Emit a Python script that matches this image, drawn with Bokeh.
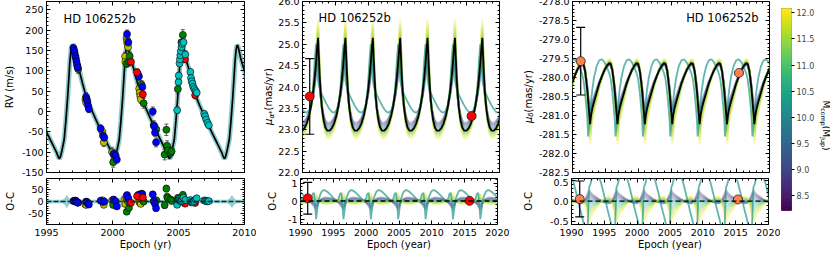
import math
import numpy as np
from bokeh.plotting import figure
from bokeh.models import (Range1d, LinearAxis, SingleIntervalTicker, FixedTicker,
                          CustomJSTickFormatter, Label, Grid, Span)
from bokeh.layouts import row, column
from bokeh.palettes import Viridis256
from bokeh.embed import file_html
from bokeh.resources import INLINE

FONT = "DejaVu Sans"
TITLE = "HD 106252b"

# ---------------- data ----------------
# RV best-fit orbit: one cycle, time after RV maximum (yr) and RV (m/s)
rv_cycle_dt = [0.00, 0.08, 0.18, 0.30, 0.45, 0.60, 0.80, 1.10, 1.35, 1.63, 2.00, 2.33, 2.70,
               3.00, 3.12, 3.21, 3.30, 3.42, 3.59, 3.72, 3.84, 3.95, 4.02, 4.10, 4.17]
rv_cycle_val = [163, 160, 146, 128, 112, 96, 70, 34, 14, -6, -33, -56, -80,
                -100, -110, -116, -112, -96, -69, -22, 30, 85, 122, 150, 163]
rv_peak_epochs = [1992.75, 1996.92, 2001.09, 2005.26, 2009.43]

# spread of the RV posterior orbits around the best fit (O-C panel)
rv_band_epoch = [1995.0, 1996.20, 1996.38, 1996.54, 1996.70, 1996.88, 2000.37, 2000.55, 2000.71,
                 2000.87, 2001.05, 2004.54, 2004.72, 2004.88, 2005.04, 2005.22, 2008.71, 2008.89,
                 2009.05, 2009.21, 2009.39, 2010.0]
rv_band_halfwidth = [7, 7, 14, 28, 14, 7, 7, 14, 26, 14, 7, 7, 14, 26, 14, 7, 7, 14, 28, 14, 7, 7]

# RV measurements per instrument (epoch yr, RV m/s, error m/s)
rv_blue_epoch = [1997.04, 1997.09, 1997.13, 1997.18, 1997.22, 1997.27, 1997.31, 1997.36, 1998.00,
                 1998.05, 1998.10, 1998.15, 1998.21, 1999.10, 1999.28, 1999.38, 2000.08, 2000.24,
                 2000.33, 2001.10, 2001.20, 2001.92, 2002.00, 2002.26, 2003.05, 2003.15, 2003.22,
                 2003.30]
rv_blue_val = [156, 150, 145, 137, 131, 123, 115, 108, 36, 30, 24, 14, 6, -42, -60, -64, -104,
               -108, -118, 190, 170, 92, 86, 60, 0, -36, -52, -76]
rv_blue_err = [9, 8, 9, 8, 9, 10, 8, 9, 10, 9, 11, 10, 9, 9, 10, 9, 11, 10, 9, 10, 9, 10, 9, 10,
               11, 10, 9, 11]

rv_olive_epoch = [1997.95, 1998.00, 1999.24, 1999.34, 1999.97, 2000.15, 2000.95, 2000.97, 2001.06,
                  2001.10, 2001.14, 2001.18, 2002.02, 2002.06, 2002.10, 2002.14]
rv_olive_val = [30, 22, -50, -76, -100, -118, 135, 122, 180, 172, 165, 158, 56, 46, 38, 30]
rv_olive_err = [10, 9, 11, 10, 12, 11, 10, 11, 10, 9, 10, 11, 10, 9, 11, 10]

rv_green_epoch = [1997.34, 1997.40, 2000.05, 2001.08, 2001.25, 2001.30, 2001.97, 2002.20, 2002.36,
                  2003.12, 2003.32, 2003.95, 2004.08, 2004.14, 2004.20, 2004.40, 2004.48, 2004.95,
                  2005.22, 2005.33]
rv_green_val = [112, 104, -125, 118, 122, 136, 86, 66, 20, -34, -44, -106, -45, -84, -96, -102,
                -98, 55, 170, 188]
rv_green_err = [10, 11, 12, 10, 11, 10, 11, 10, 12, 11, 12, 13, 14, 12, 13, 12, 11, 12, 14, 13]

rv_red_epoch = [2001.40, 2001.86, 2002.30, 2005.45, 2005.50, 2006.26]
rv_red_val = [122, 96, 42, 140, 128, 40]
rv_red_err = [8, 9, 8, 9, 8, 9]

rv_cyan_epoch = [2004.90, 2005.00, 2005.02, 2005.08, 2005.11, 2005.14, 2005.18, 2005.23, 2005.28,
                 2005.38, 2005.52, 2005.90, 2005.95, 2006.00, 2006.06, 2006.12, 2006.20, 2006.30,
                 2006.38, 2006.95, 2007.02, 2007.10, 2007.20, 2007.30]
rv_cyan_val = [3, 72, 88, 118, 128, 138, 148, 158, 166, 170, 140, 97, 82, 74, 68, 60, 55, 50, 46,
               -6, -12, -20, -28, -34]
rv_cyan_err = [8, 7, 8, 7, 8, 7, 8, 9, 8, 9, 8, 7, 8, 7, 8, 7, 8, 7, 8, 7, 8, 7, 8, 7]

rv_instruments = [("olive", "#BFBF00"), ("green", "#008000"), ("blue", "#0000FF"),
                  ("red", "#FF0000"), ("cyan", "#00BFBF")]

# Proper motion in RA: one cycle after each maximum (yr, mas/yr)
ra_peak_epochs = [1988.20, 1992.37, 1996.54, 2000.71, 2004.88, 2009.05, 2013.22, 2017.39, 2021.56]
ra_cycle_dt = [0.00, 0.12, 0.25, 0.40, 0.60, 0.85, 1.10, 1.40, 1.75, 2.10, 2.45, 2.80, 3.10, 3.40,
               3.65, 3.85, 4.02, 4.17]
ra_cycle_val = [25.15, 24.70, 24.25, 23.85, 23.50, 23.22, 23.06, 22.98, 22.98, 23.04, 23.15, 23.33,
                23.55, 23.85, 24.20, 24.55, 24.90, 25.15]
ra_alt_val = [24.15, 24.05, 23.97, 23.90, 23.82, 23.74, 23.66, 23.57, 23.48, 23.42, 23.40, 23.45,
              23.60, 23.95, 24.60, 25.00, 24.70, 24.15]
ra_center = 23.6

# Proper motion in Dec: one cycle after each minimum (yr, mas/yr)
dec_cusp_epochs = [1988.51, 1992.68, 1996.85, 2001.02, 2005.19, 2009.36, 2013.53, 2017.70, 2021.87]
dec_cycle_dt = [0.00, 0.15, 0.35, 0.60, 1.00, 1.40, 1.80, 2.20, 2.60, 2.90, 3.15, 3.40, 3.60, 3.75,
                3.87, 4.00, 4.17]
dec_cycle_val = [-281.23, -280.98, -280.80, -280.64, -280.40, -280.16, -279.97, -279.80, -279.68,
                 -279.62, -279.64, -279.82, -280.10, -280.35, -280.60, -280.88, -281.23]
dec_alt_val = [-280.90, -280.60, -280.30, -280.00, -279.70, -279.55, -279.52, -279.60, -279.75,
               -279.88, -280.05, -280.40, -280.78, -281.10, -281.55, -281.30, -280.90]
dec_center = -279.9

# posterior samples: companion mass (M_Jup) and amplitude relative to best fit
sample_mass = [8.5, 8.8, 9.1, 9.4, 9.7, 10.0, 10.3, 10.6, 10.9, 11.2, 11.5, 11.8, 12.0]
ra_amp = [0.70, 0.75, 0.80, 0.85, 0.90, 0.95, 1.00, 1.04, 1.08, 1.12, 1.17, 1.22, 1.28]
dec_amp = [0.80, 0.84, 0.88, 0.92, 0.96, 1.00, 1.04, 1.09, 1.14, 1.19, 1.25, 1.32, 1.40]
alt_mass = 10.3

# Hipparcos / Gaia proper motions
ra_obs_epoch = [1991.10, 2015.75]
ra_obs_val = [23.78, 23.32]
ra_obs_err = [0.885, 0.04]
ra_oc_val = [0.15, 0.01]
ra_oc_err = [0.88, 0.04]

dec_obs_epoch = [1991.25, 2015.35]
dec_obs_val = [-279.57, -279.88]
dec_obs_err = [0.89, 0.03]
dec_oc_val = [0.05, 0.04]
dec_oc_err = [0.43, 0.03]

cbar_ticks = [8.5, 9.0, 9.5, 10.0, 10.5, 11.0, 11.5, 12.0]
CB_LO, CB_HI = 8.22, 12.08

# ---------------- helpers ----------------
CHAR_W = {' ': 0.318, '(': 0.390, ')': 0.390, '*': 0.500, '/': 0.337, 'a': 0.613, 'c': 0.550,
          'm': 0.974, 'o': 0.612, 'p': 0.635, 'r': 0.411, 's': 0.521, 'u': 0.634, 'y': 0.592,
          'J': 0.295, 'M': 0.863, 'μ': 0.636, 'α': 0.659, 'δ': 0.612}


def text_w(t, size):
    return sum(CHAR_W.get(c, 0.6) for c in t) * size


def vir(m):
    i = int(round((m - CB_LO) / (CB_HI - CB_LO) * 255))
    return Viridis256[max(0, min(255, i))]


def periodic(starts, dts, vals):
    t, v = [], []
    for i, s in enumerate(starts):
        j0 = 0 if i == 0 else 1
        t.extend(s + d for d in dts[j0:])
        v.extend(vals[j0:])
    return np.array(t), np.array(v, dtype=float)


def clean(p):
    for g in p.select(type=Grid):
        g.visible = False
    p.background_fill_color = "white"
    p.border_fill_color = "white"


def base_fig(xr, yr, fw, fh, bl, br, bt, bb):
    p = figure(x_range=xr, y_range=yr, frame_width=fw, frame_height=fh,
               min_border_left=bl, min_border_right=br, min_border_top=bt, min_border_bottom=bb,
               toolbar_location=None, output_backend="svg",
               x_axis_location=None, y_axis_location=None)
    clean(p)
    p.outline_line_color = "black"
    p.outline_line_width = 1
    return p


def label_fig(w, h):
    p = figure(x_range=Range1d(0, 1), y_range=Range1d(0, 1), frame_width=w, frame_height=h,
               min_border=0, toolbar_location=None, output_backend="svg",
               x_axis_location=None, y_axis_location=None)
    clean(p)
    p.outline_line_color = None
    return p


def tick_fmt(dec):
    return CustomJSTickFormatter(code=(
        "const v = Math.abs(tick) < 1e-9 ? 0 : tick;"
        f"return v.toFixed({dec});"))


def add_axis(p, side, interval, dec, labels, title=None, title_standoff=5, fs="9.5px",
             standoff=3):
    ax = LinearAxis(ticker=SingleIntervalTicker(interval=interval, num_minor_ticks=5),
                    formatter=tick_fmt(dec))
    ax.major_tick_in = 4
    ax.major_tick_out = 0
    ax.minor_tick_in = 2
    ax.minor_tick_out = 0
    ax.major_tick_line_color = "black"
    ax.minor_tick_line_color = "black"
    ax.axis_line_color = None
    if labels:
        ax.major_label_text_font = FONT
        ax.major_label_text_font_size = fs
        ax.major_label_text_color = "black"
        ax.major_label_standoff = standoff
    else:
        ax.major_label_text_font_size = "0px"
        ax.major_label_text_alpha = 0
        ax.major_label_standoff = 0
    if title:
        ax.axis_label = title
        ax.axis_label_text_font = FONT
        ax.axis_label_text_font_size = "10px"
        ax.axis_label_text_font_style = "normal"
        ax.axis_label_text_color = "black"
        ax.axis_label_standoff = title_standoff
    p.add_layout(ax, side)


def frame_axes(p, xint, yint, xdec, ydec, show_x, xtitle=None, ytitle=None, ystand=5):
    add_axis(p, "below", xint, xdec, show_x, title=xtitle, title_standoff=0, standoff=4)
    add_axis(p, "above", xint, xdec, False)
    add_axis(p, "left", yint, ydec, True, title=ytitle, title_standoff=ystand)
    add_axis(p, "right", yint, ydec, False)


def label(p, text, x, y, size=10, angle=0.0, align="center", style="normal"):
    p.add_layout(Label(x=x, y=y, x_units="screen", y_units="screen", text=text, angle=angle,
                       text_font=FONT, text_font_size=f"{size}px", text_align=align,
                       text_baseline="middle", text_font_style=style, text_color="black"))


def rich_label(p, pieces, x, center, angle, sub_shift):
    """pieces: (text, size, is_sub, italic); written along a rotated baseline."""
    total = sum(text_w(t, s) for t, s, _, _ in pieces)
    sign = 1 if angle > 0 else -1
    pos = center - sign * total / 2
    for t, s, sub, ital in pieces:
        label(p, t, x + (sub_shift if sub else 0), pos, size=s, angle=angle, align="left",
              style="italic" if ital else "normal")
        pos += sign * text_w(t, s)


def errorbars(p, x, y, e, color, alpha, width, cap):
    x = np.asarray(x, float)
    y = np.asarray(y, float)
    e = np.asarray(e, float)
    p.segment(x0=x, y0=y - e, x1=x, y1=y + e, line_color=color, line_alpha=alpha,
              line_width=width)
    p.scatter(x=np.concatenate([x, x]), y=np.concatenate([y - e, y + e]), marker="dash",
              size=cap, line_color=color, line_alpha=alpha, line_width=width)


# ---------------- geometry ----------------
FH_MAIN, FH_RES = 171, 46
BT_MAIN, BB_MAIN, BT_RES, BB_RES = 8, 6, 0, 29
H_MAIN = BT_MAIN + FH_MAIN + BB_MAIN
H_TOTAL = H_MAIN + BT_RES + FH_RES + BB_RES
HALF_PI = math.pi / 2

# ---------------- panel 1: RV ----------------
rv_t, rv_v = periodic(rv_peak_epochs, rv_cycle_dt, rv_cycle_val)
x1 = Range1d(1995, 2010)
m1 = base_fig(x1, Range1d(-150, 270), 198, FH_MAIN, 40, 13, BT_MAIN, BB_MAIN)
r1 = base_fig(x1, Range1d(-97, 97), 198, FH_RES, 40, 13, BT_RES, BB_RES)
frame_axes(m1, 5, 50, 0, 0, False, ytitle="RV (m/s)", ystand=4)
frame_axes(r1, 5, 50, 0, 0, True, xtitle="Epoch (yr)", ytitle="O-C", ystand=9)

m1.line(rv_t, rv_v, line_color="#5fb5b5", line_alpha=0.7, line_width=5)
m1.line(rv_t, rv_v, line_color="black", line_width=1.7)
r1.varea(x=rv_band_epoch, y1=[-h for h in rv_band_halfwidth], y2=rv_band_halfwidth,
         fill_color="#5fb5b5", fill_alpha=0.65)
r1.add_layout(Span(location=0, dimension="width", line_color="#0b2a3a", line_width=1.6,
                   line_dash="5 2"))

rv_data = {
    "olive": (rv_olive_epoch, rv_olive_val, rv_olive_err),
    "green": (rv_green_epoch, rv_green_val, rv_green_err),
    "blue": (rv_blue_epoch, rv_blue_val, rv_blue_err),
    "red": (rv_red_epoch, rv_red_val, rv_red_err),
    "cyan": (rv_cyan_epoch, rv_cyan_val, rv_cyan_err),
}
for name, col in rv_instruments:
    ep, val, err = rv_data[name]
    ep = np.asarray(ep, float)
    val = np.asarray(val, float)
    oc = val - np.interp(ep, rv_t, rv_v)
    errorbars(m1, ep, val, err, "#333333", 0.75, 1, 4)
    errorbars(r1, ep, oc, err, "#333333", 0.75, 1, 4)
    m1.scatter(ep, val, size=7, fill_color=col, line_color="black", line_width=0.6)
    r1.scatter(ep, oc, size=7, fill_color=col, line_color="black", line_width=0.6)

label(m1, TITLE, 17, FH_MAIN - 17, size=11.5, align="left")


# ---------------- PM panels ----------------
def pm_panel(bl_main, bl_res, br, peaks, dts, vals, alt_vals, center, amps, yr, yres, obs_ep,
             obs_val, obs_err, oc_val, oc_err, mcol, title_x, title_align, oc_stand):
    t, v = periodic(peaks, dts, vals)
    _, va = periodic(peaks, dts, alt_vals)
    xr = Range1d(1990, 2020)
    m = base_fig(xr, Range1d(*yr), 197, FH_MAIN, bl_main, br, BT_MAIN, BB_MAIN)
    r = base_fig(xr, Range1d(*yres), 197, FH_RES, bl_res, br, BT_RES, BB_RES)
    frame_axes(m, 5, 0.5, 0, 1, False)
    rint, rdec = (1, 0) if yres[1] > 1 else (0.5, 1)
    frame_axes(r, 5, rint, 0, rdec, True, xtitle="Epoch (year)", ytitle="O-C", ystand=oc_stand)

    for mass, k in zip(sample_mass, amps):
        col = vir(mass)
        vs = center + k * (v - center)
        m.line(t, vs, line_color=col, line_alpha=0.25, line_width=2.2)
        r.line(t, vs - v, line_color=col, line_alpha=0.25, line_width=2.2)
    acol = vir(alt_mass)
    m.line(t, va, line_color=acol, line_alpha=0.7, line_width=1.8)
    r.line(t, va - v, line_color=acol, line_alpha=0.7, line_width=1.8)
    m.line(t, v, line_color="black", line_width=1.8)
    r.add_layout(Span(location=0, dimension="width", line_color="black", line_width=1.4,
                      line_dash="5 3"))

    errorbars(m, obs_ep, obs_val, obs_err, "black", 1, 1.2, 9)
    errorbars(r, obs_ep, oc_val, oc_err, "black", 1, 1.2, 9)
    m.scatter(obs_ep, obs_val, size=9, fill_color=mcol, line_color="#222222", line_width=0.8)
    r.scatter(obs_ep, oc_val, size=9, fill_color=mcol, line_color="#222222", line_width=0.8)

    label(m, TITLE, title_x, FH_MAIN - 16, size=11.5, align=title_align)
    return m, r


m2, r2 = pm_panel(25, 43, 12, ra_peak_epochs, ra_cycle_dt, ra_cycle_val, ra_alt_val, ra_center,
                  ra_amp, (22.0, 26.0), (-1.3, 1.25), ra_obs_epoch, ra_obs_val, ra_obs_err,
                  ra_oc_val, ra_oc_err, "#FF0000", 16, "left", 7)
m3, r3 = pm_panel(36, 60, 12, dec_cusp_epochs, dec_cycle_dt, dec_cycle_val, dec_alt_val,
                  dec_center, dec_amp, (-282.5, -278.0), (-0.56, 0.54), dec_obs_epoch,
                  dec_obs_val, dec_obs_err, dec_oc_val, dec_oc_err, "#FF7F50", 186, "right", 13)

# y-axis titles with subscripts, in narrow text strips beside the main panels
lab2 = label_fig(18, H_MAIN)
rich_label(lab2, [("μ", 10, False, True), ("α*", 7, True, True), (" (mas/yr)", 10, False, False)],
           11, BB_MAIN + FH_MAIN / 2, HALF_PI, 3)
lab3 = label_fig(24, H_MAIN)
rich_label(lab3, [("μ", 10, False, True), ("δ", 7, True, True), (" (mas/yr)", 10, False, False)],
           16.5, BB_MAIN + FH_MAIN / 2, HALF_PI, 3)

# ---------------- colour bar ----------------
CB_BT, CB_FH = 15, 202
cb = figure(x_range=Range1d(0, 1), y_range=Range1d(CB_LO, CB_HI), frame_width=10,
            frame_height=CB_FH, min_border_left=0, min_border_right=23, min_border_top=CB_BT,
            min_border_bottom=H_TOTAL - CB_BT - CB_FH, toolbar_location=None,
            output_backend="svg", x_axis_location=None, y_axis_location=None)
clean(cb)
cb.outline_line_color = "#444444"
cb.outline_line_width = 0.8
edges = np.linspace(CB_LO, CB_HI, 257)
cb.quad(left=0, right=1, bottom=edges[:-1], top=edges[1:], color=list(Viridis256))
cax = LinearAxis(ticker=FixedTicker(ticks=cbar_ticks, minor_ticks=[]), formatter=tick_fmt(1))
cax.major_tick_in = 0
cax.major_tick_out = 3
cax.minor_tick_in = 0
cax.minor_tick_out = 0
cax.axis_line_color = None
cax.major_tick_line_color = "black"
cax.major_label_text_font = FONT
cax.major_label_text_font_size = "8px"
cax.major_label_standoff = 2
cb.add_layout(cax, "right")

labcb = label_fig(14, H_TOTAL)
rich_label(labcb, [("M", 9, False, False), ("comp", 6.3, True, False), ("(M", 9, False, False),
                   ("Jup", 6.3, True, False), (")", 9, False, False)],
           8.5, H_TOTAL - 117, -HALF_PI, -2.5)

layout = row(column(m1, r1),
             column(row(lab2, m2), r2),
             column(row(lab3, m3), r3),
             cb, labcb,
             styles={"margin-top": "-7px"})
open("out.html", "w").write(file_html(layout, INLINE))
